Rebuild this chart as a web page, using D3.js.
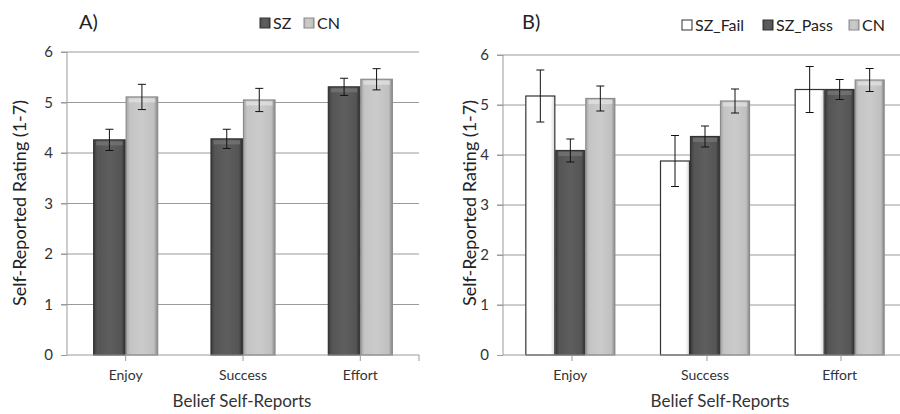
<!DOCTYPE html>
<html>
<head>
<meta charset="utf-8">
<script src="https://cdn.jsdelivr.net/npm/d3@7"></script>
<style>
  body { margin: 0; background: #fff; }
  svg text { font-family: Lato, "Open Sans", sans-serif; }
</style>
</head>
<body>
<svg id="chart" width="900" height="414"></svg>
<script>
// data
const categories = ["Enjoy", "Success", "Effort"]
const yTicks = [0, 1, 2, 3, 4, 5, 6]

// panel A
const seriesA = ["SZ", "CN"]
const meanA_SZ = [4.26, 4.28, 5.31]
const errA_SZ = [0.21, 0.19, 0.17]
const meanA_CN = [5.11, 5.05, 5.46]
const errA_CN = [0.25, 0.23, 0.21]

// panel B
const seriesB = ["SZ_Fail", "SZ_Pass", "CN"]
const meanB_Fail = [5.18, 3.88, 5.31]
const errB_Fail = [0.52, 0.51, 0.46]
const meanB_Pass = [4.09, 4.37, 5.31]
const errB_Pass = [0.23, 0.21, 0.20]
const meanB_CN = [5.13, 5.08, 5.50]
const errB_CN = [0.25, 0.24, 0.23]

const svg = d3.select("#chart")
const defs = svg.append("defs")

// bevel-like gradients
function grad(id, stops) {
  const g = defs.append("linearGradient").attr("id", id)
    .attr("x1", "0%").attr("x2", "100%").attr("y1", "0%").attr("y2", "0%")
  stops.forEach(function(s) {
    g.append("stop").attr("offset", s[0]).attr("stop-color", s[1])
  })
}
grad("gSZ", [["0%", "#3c3c3c"], ["12%", "#555"], ["50%", "#5e5e5e"], ["88%", "#555"], ["100%", "#2e2e2e"]])
grad("gCN", [["0%", "#a8a8a8"], ["12%", "#c4c4c4"], ["50%", "#cbcbcb"], ["88%", "#c0c0c0"], ["100%", "#8a8a8a"]])
grad("gFail", [["0%", "#ffffff"], ["85%", "#ffffff"], ["100%", "#d8d8d8"]])

const styles = {
  "SZ": { fill: "url(#gSZ)", stroke: "#333", top: "#777" },
  "SZ_Pass": { fill: "url(#gSZ)", stroke: "#333", top: "#777" },
  "CN": { fill: "url(#gCN)", stroke: "#8a8a8a", top: "#e4e4e4" },
  "SZ_Fail": { fill: "url(#gFail)", stroke: "#333", top: "#fff" }
}

function panel(opt) {
  const g = svg.append("g")
  const y = d3.scaleLinear().domain([0, 6]).range([355, opt.top])
  const x = d3.scaleBand().domain(categories).range([opt.left, opt.right])
  const inner = d3.scaleBand().domain(opt.series)
    .range([-opt.groupW / 2, opt.groupW / 2])

  // gridlines
  g.selectAll(".grid").data(yTicks.filter(function(d) { return d > 0 }))
    .enter().append("line")
    .attr("x1", opt.left - 6).attr("x2", opt.gridEnd)
    .attr("y1", function(d) { return y(d) }).attr("y2", function(d) { return y(d) })
    .attr("stroke", "#9a9a9a").attr("stroke-width", 1)

  // y axis
  const yAxis = d3.axisLeft(y).tickValues(yTicks).tickSize(6).tickPadding(8)
    .tickFormat(d3.format("d"))
  const ya = g.append("g").attr("transform", "translate(" + opt.left + ",0)").call(yAxis)
  ya.select(".domain").attr("stroke", "#9a9a9a").attr("d", "M0," + y(6) + "V" + y(0))
  ya.selectAll(".tick line").attr("stroke", "#9a9a9a")
  ya.selectAll("text").attr("fill", "#333").style("font-size", "15px")

  // bars
  opt.series.forEach(function(s, si) {
    const st = styles[s]
    const bg = g.append("g")
    categories.forEach(function(c, ci) {
      const v = opt.means[si][ci]
      const bx = x(c) + x.bandwidth() / 2 + inner(s)
      const bw = inner.bandwidth()
      bg.append("rect")
        .attr("x", bx + 0.5).attr("y", y(v))
        .attr("width", bw - 1).attr("height", y(0) - y(v))
        .attr("fill", st.fill).attr("stroke", st.stroke).attr("stroke-width", 1.2)
      bg.append("rect")
        .attr("x", bx + 3).attr("y", y(v) + 1.5)
        .attr("width", bw - 6).attr("height", 4)
        .attr("fill", st.top).attr("opacity", 0.7)
    })
  })

  // x axis
  const xa = g.append("g").attr("transform", "translate(0," + y(0) + ")")
  xa.append("line").attr("x1", opt.left).attr("x2", opt.axisEnd)
    .attr("stroke", "#9a9a9a")
  xa.selectAll(".xt").data(opt.xTickPos).enter().append("line")
    .attr("x1", function(d) { return d }).attr("x2", function(d) { return d })
    .attr("y1", 0).attr("y2", 6).attr("stroke", "#9a9a9a")
  xa.selectAll(".xl").data(categories).enter().append("text")
    .attr("x", function(d) { return x(d) + x.bandwidth() / 2 })
    .attr("y", 25).attr("text-anchor", "middle")
    .attr("fill", "#333").style("font-size", "14px")
    .text(function(d) { return d })

  // error bars
  opt.series.forEach(function(s, si) {
    categories.forEach(function(c, ci) {
      const v = opt.means[si][ci], e = opt.errs[si][ci]
      const cx = x(c) + x.bandwidth() / 2 + inner(s) + inner.bandwidth() / 2
      g.append("line").attr("x1", cx).attr("x2", cx)
        .attr("y1", y(v + e)).attr("y2", y(v - e)).attr("stroke", "#111")
      ;[v + e, v - e].forEach(function(t) {
        g.append("line").attr("x1", cx - 4).attr("x2", cx + 4)
          .attr("y1", y(t)).attr("y2", y(t)).attr("stroke", "#111")
      })
    })
  })

  // titles
  g.append("text").attr("x", opt.panelX).attr("y", 29)
    .style("font-size", "20px").attr("fill", "#222").text(opt.label)
  g.append("text").attr("transform", "translate(" + opt.yTitleX + ",203) rotate(-90)")
    .attr("text-anchor", "middle").style("font-size", "18px").attr("fill", "#222")
    .text("Self-Reported Rating (1-7)")
  g.append("text").attr("x", opt.xTitleX).attr("y", 407).attr("text-anchor", "middle")
    .style("font-size", "17px").attr("fill", "#333").text("Belief Self-Reports")

  // legend
  const lg = g.append("g")
  opt.series.forEach(function(s, si) {
    const st = styles[s]
    lg.append("rect").attr("x", opt.legendX[si]).attr("y", opt.legendY - 5)
      .attr("width", 10).attr("height", 10)
      .attr("fill", st.fill).attr("stroke", st.stroke)
    lg.append("text").attr("x", opt.legendX[si] + 13).attr("y", opt.legendY + 5.5)
      .style("font-size", "16px").attr("fill", "#222").text(s)
  })
}

panel({
  left: 67, right: 419, top: 52, gridEnd: 419, axisEnd: 419,
  series: seriesA, means: [meanA_SZ, meanA_CN], errs: [errA_SZ, errA_CN],
  groupW: 65, xTickPos: [125.7, 243, 360.3, 419],
  label: "A)", panelX: 79, yTitleX: 26, xTitleX: 242,
  legendX: [260, 304], legendY: 23
})

panel({
  left: 503, right: 907, top: 55, gridEnd: 900, axisEnd: 900,
  series: seriesB, means: [meanB_Fail, meanB_Pass, meanB_CN],
  errs: [errB_Fail, errB_Pass, errB_CN],
  groupW: 90, xTickPos: [572, 707, 841],
  label: "B)", panelX: 522, yTitleX: 476, xTitleX: 720,
  legendX: [682, 763, 849], legendY: 25
})
</script>
</body>
</html>
